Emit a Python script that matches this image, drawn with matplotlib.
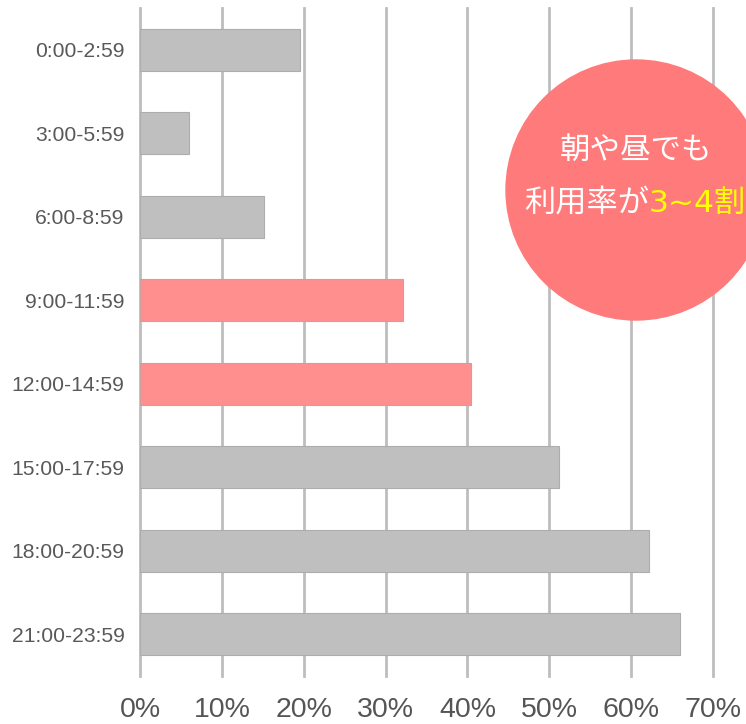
import matplotlib.pyplot as plt
from matplotlib.patches import Ellipse

# Usage rate by time of day (%)
time_slots = ['0:00-2:59', '3:00-5:59', '6:00-8:59', '9:00-11:59',
              '12:00-14:59', '15:00-17:59', '18:00-20:59', '21:00-23:59']
usage_rate = [19.6, 6.0, 15.1, 32.1, 40.4, 51.2, 62.2, 66.0]
highlight = [False, False, False, True, True, False, False, False]
x_ticks = [0, 10, 20, 30, 40, 50, 60, 70]

GRAY = '#BFBFBF'
PINK = '#FF8F8F'

fig = plt.figure(figsize=(7.46, 7.24), dpi=100)
ax = fig.add_axes([140 / 746, 48 / 724, 573 / 746, 668 / 724])

colors = [PINK if h else GRAY for h in highlight]
edges = ['#C9A0A0' if h else '#ADADAD' for h in highlight]
ax.barh(range(len(time_slots)), usage_rate, height=0.5, color=colors,
        edgecolor=edges, linewidth=0.8, zorder=3)

ax.set_xlim(0, 70)
ax.set_ylim(len(time_slots) - 0.5, -0.5)
ax.set_xticks(x_ticks)
ax.set_xticklabels([f'{t}%' for t in x_ticks], fontsize=20.5, color='#555555',
                   family='Liberation Sans')
ax.set_yticks(range(len(time_slots)))
ax.set_yticklabels(time_slots, fontsize=15.2, color='#595959', family='Liberation Sans')
ax.tick_params(axis='both', length=0)
ax.tick_params(axis='y', pad=11)
ax.tick_params(axis='x', pad=15)
for s in ax.spines.values():
    s.set_visible(False)
ax.grid(axis='x', color='#BDBDBD', linewidth=2, zorder=1)
ax.set_axisbelow(True)
for gl in ax.get_xgridlines():
    gl.set_clip_on(False)

# callout bubble (sizes in data units so it stays round)
px_x = 573 / 70
px_y = 668 / 8
cx, cy, r = (636 - 140) / px_x, (190 - 8) / px_y - 0.5, 130
bubble = Ellipse((cx, cy), 2 * r / px_x, 2 * r / px_y, color='#FF7A7A',
                 clip_on=False, zorder=5)
ax.add_patch(bubble)

jp = ['Noto Sans CJK JP', 'DejaVu Sans']
ax.text(cx, cy - 40 / px_y, '朝や昼でも', ha='center', va='center', fontsize=22,
        color='white', family=jp, zorder=6, clip_on=False)
split_x = (649 - 140) / px_x
ax.text(split_x, cy + 13 / px_y, '利用率が', ha='right', va='center', fontsize=22.5,
        color='white', family=jp, zorder=6, clip_on=False)
ax.text(split_x, cy + 13 / px_y, '3~4割', ha='left', va='center', fontsize=22.5,
        color='#FFFF00', family=['DejaVu Sans', 'Noto Sans CJK JP'], zorder=6,
        clip_on=False)

fig.savefig('out.png', dpi=100)
